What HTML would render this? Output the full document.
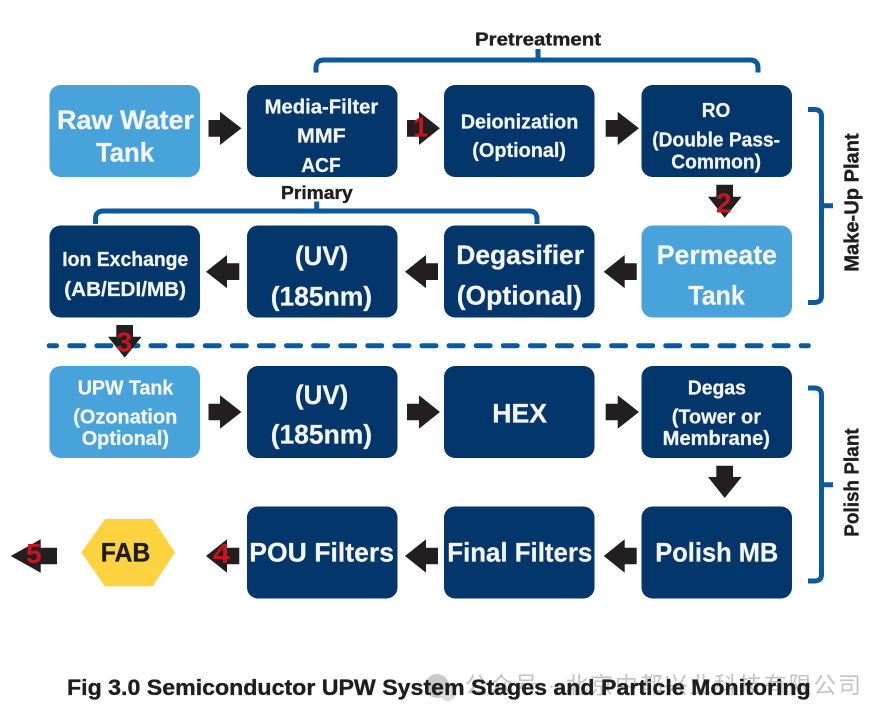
<!DOCTYPE html>
<html><head><meta charset="utf-8"><style>
html,body{margin:0;padding:0;background:#fff}
svg{display:block}
text{font-family:"Liberation Sans","Noto Sans CJK SC",sans-serif;font-weight:bold}
.w{fill:#f4f5f7;stroke:#f4f5f7;stroke-width:.25px}.k{fill:#1f1d1e;stroke:#1f1d1e;stroke-width:.35px}.r{fill:#c8141c;font-size:28px}
.a{fill:#231f20}.n{fill:#03366a}.l{fill:#48a3db}
.b{fill:none;stroke:#0b5a9e;stroke-width:5}
</style></head><body>
<svg width="891" height="721" viewBox="0 0 891 721" xmlns="http://www.w3.org/2000/svg">
<rect width="891" height="721" fill="#fff"/>
<!-- boxes -->
<rect class="l" x="49.5" y="85" width="150.5" height="92" rx="11"/>
<rect class="n" x="247" y="85" width="150.5" height="92" rx="11"/>
<rect class="n" x="444" y="85" width="150.5" height="92" rx="11"/>
<rect class="n" x="641.5" y="85" width="150.5" height="92" rx="11"/>
<rect class="n" x="49.5" y="225.5" width="150.5" height="92" rx="11"/>
<rect class="n" x="247" y="225.5" width="150.5" height="92" rx="11"/>
<rect class="n" x="444" y="225.5" width="150.5" height="92" rx="11"/>
<rect class="l" x="641.5" y="225.5" width="150.5" height="92" rx="11"/>
<rect class="l" x="49.5" y="366" width="150.5" height="92" rx="11"/>
<rect class="n" x="247" y="366" width="150.5" height="92" rx="11"/>
<rect class="n" x="444" y="366" width="150.5" height="92" rx="11"/>
<rect class="n" x="641.5" y="366" width="150.5" height="92" rx="11"/>
<rect class="n" x="247" y="506.5" width="150.5" height="92" rx="11"/>
<rect class="n" x="444" y="506.5" width="150.5" height="92" rx="11"/>
<rect class="n" x="641.5" y="506.5" width="150.5" height="92" rx="11"/>
<polygon points="81.3,552.5 105,519 152.7,519 175,552.5 152.7,586.3 105,586.3" fill="#ffd33f"/>
<!-- brackets -->
<path class="b" d="M316 72.5V68Q316 60 324 60H750Q758 60 758 68V72.5M538 49V60"/>
<path class="b" d="M95.5 224V219Q95.5 211 103.500 211H529Q537 211 537 219V224M316.700 201.500V211"/>
<path class="b" d="M808 109.500H814Q821.500 109.500 821.500 116V296Q821.500 302.500 814 302.500H808M821.500 205.700H833"/>
<path class="b" d="M808 388H814Q821.500 388 821.500 394.500V574.500Q821.500 581 814 581H808M821.500 484.700H833"/>
<!-- dashed line -->
<path class="b" stroke-linecap="round" d="M49.200 345.700H56.500"/>
<path class="b" stroke-linecap="round" stroke-dasharray="14 13.090" d="M69.800 345.700H808.300"/>
<!-- arrows right -->
<polygon class="a" points="208.500,120 220,120 220,111.700 241.500,128.300 220,145 220,136.700 208.500,136.700"/>
<polygon class="a" points="407,120 419,120 419,111.700 440,128.300 419,145 419,136.700 407,136.700"/>
<polygon class="a" points="605.700,120 617.700,120 617.700,111.700 639,128.300 617.700,145 617.700,136.700 605.700,136.700"/>
<polygon class="a" points="208.500,403.700 220,403.700 220,395.300 241.500,412 220,428.700 220,420.300 208.500,420.300"/>
<polygon class="a" points="407,403.700 419,403.700 419,395.300 440,412 419,428.700 419,420.300 407,420.300"/>
<polygon class="a" points="605.700,403.700 617.700,403.700 617.700,395.300 639,412 617.700,428.700 617.700,420.300 605.700,420.300"/>
<!-- arrows left -->
<polygon class="a" points="206,271.700 227,255 227,263.300 239.300,263.300 239.300,280 227,280 227,288.300"/>
<polygon class="a" points="405,271.700 426,255 426,263.300 438,263.300 438,280 426,280 426,288.300"/>
<polygon class="a" points="603.700,271.700 624.700,255 624.700,263.300 636.700,263.300 636.700,280 624.700,280 624.700,288.300"/>
<polygon class="a" points="603.700,556 624.700,539.300 624.700,547.700 636.700,547.700 636.700,564.300 624.700,564.300 624.700,572.700"/>
<polygon class="a" points="405,556 426,539.300 426,547.700 438,547.700 438,564.300 426,564.300 426,572.700"/>
<polygon class="a" points="206,556 227,539.300 227,547.700 239.300,547.700 239.300,564.300 227,564.300 227,572.700"/>
<polygon class="a" points="10.700,556 40.700,539.300 40.700,547.700 57,547.700 57,564.300 40.700,564.300 40.700,572.700"/>
<!-- arrows down -->
<polygon class="a" points="716.300,184.700 733,184.700 733,196.700 741.700,196.700 724.700,217.700 708,196.700 716.300,196.700"/>
<polygon class="a" points="716.300,465.700 733,465.700 733,477 741.700,477 724.700,498 708,477 716.300,477"/>
<polygon class="a" points="116.300,325 133,325 133,336.700 141.700,336.700 124.700,357.700 108,336.700 116.300,336.700"/>
<!-- watermark -->
<circle cx="437" cy="686" r="12" fill="#c9c9c9"/>
<circle cx="448" cy="693" r="8" fill="#dcdcdc"/>
<text x="465" y="693" font-size="23" textLength="396" lengthAdjust="spacing" fill="#c4c4c4" style="font-weight:normal">公众号 · 北京中都兴业科技有限公司</text>
<!-- labels -->
<g class="w" font-size="27">
<text x="57" y="129" textLength="137" lengthAdjust="spacingAndGlyphs">Raw Water</text>
<text x="96" y="161.700" textLength="58" lengthAdjust="spacingAndGlyphs">Tank</text>
<text x="295" y="265" textLength="53.300" lengthAdjust="spacingAndGlyphs">(UV)</text>
<text x="270.700" y="305.300" textLength="101.300" lengthAdjust="spacingAndGlyphs">(185nm)</text>
<text x="456.300" y="264" textLength="127.700" lengthAdjust="spacingAndGlyphs">Degasifier</text>
<text x="456.700" y="304.700" textLength="125.300" lengthAdjust="spacingAndGlyphs">(Optional)</text>
<text x="656.700" y="264" textLength="120.300" lengthAdjust="spacingAndGlyphs">Permeate</text>
<text x="688.300" y="304.700" textLength="56.400" lengthAdjust="spacingAndGlyphs">Tank</text>
<text x="295" y="404" textLength="53.300" lengthAdjust="spacingAndGlyphs">(UV)</text>
<text x="270.700" y="443.300" textLength="101.300" lengthAdjust="spacingAndGlyphs">(185nm)</text>
<text x="492.300" y="422.700" textLength="54.700" lengthAdjust="spacingAndGlyphs">HEX</text>
<text x="249.300" y="561.700" textLength="144.700" lengthAdjust="spacingAndGlyphs">POU Filters</text>
<text x="447.300" y="561.700" textLength="145" lengthAdjust="spacingAndGlyphs">Final Filters</text>
<text x="655.300" y="561.700" textLength="123" lengthAdjust="spacingAndGlyphs">Polish MB</text>
</g>
<g class="w" font-size="20">
<text x="264.700" y="113.300" textLength="113.600" lengthAdjust="spacingAndGlyphs">Media-Filter</text>
<text x="297" y="142.300" textLength="48.700" lengthAdjust="spacingAndGlyphs">MMF</text>
<text x="301.300" y="172" textLength="39.400" lengthAdjust="spacingAndGlyphs">ACF</text>
<text x="460.700" y="128.300" textLength="117.600" lengthAdjust="spacingAndGlyphs">Deionization</text>
<text x="472.300" y="157" textLength="93.700" lengthAdjust="spacingAndGlyphs">(Optional)</text>
<text x="701.700" y="117" textLength="28.600" lengthAdjust="spacingAndGlyphs">RO</text>
<text x="652.300" y="146.300" textLength="127.700" lengthAdjust="spacingAndGlyphs">(Double Pass-</text>
<text x="671.300" y="168.300" textLength="89.700" lengthAdjust="spacingAndGlyphs">Common)</text>
<text x="62.300" y="266" textLength="126" lengthAdjust="spacingAndGlyphs">Ion Exchange</text>
<text x="64.300" y="296" textLength="121.700" lengthAdjust="spacingAndGlyphs">(AB/EDI/MB)</text>
<text x="77.700" y="394.300" textLength="95.600" lengthAdjust="spacingAndGlyphs">UPW Tank</text>
<text x="73.300" y="423.300" textLength="104" lengthAdjust="spacingAndGlyphs">(Ozonation</text>
<text x="81.700" y="445" textLength="87.300" lengthAdjust="spacingAndGlyphs">Optional)</text>
<text x="687.700" y="394.300" textLength="58.300" lengthAdjust="spacingAndGlyphs">Degas</text>
<text x="671.700" y="423.300" textLength="89.300" lengthAdjust="spacingAndGlyphs">(Tower or</text>
<text x="662.700" y="445" textLength="107.300" lengthAdjust="spacingAndGlyphs">Membrane)</text>
</g>
<g class="k">
<text x="100.700" y="561.300" font-size="27" textLength="49.600" lengthAdjust="spacingAndGlyphs">FAB</text>
<text x="475" y="45.300" font-size="18" textLength="126" lengthAdjust="spacingAndGlyphs">Pretreatment</text>
<text x="281" y="199" font-size="18" textLength="71.700" lengthAdjust="spacingAndGlyphs">Primary</text>
<text transform="translate(858.300 271.700) rotate(-90)" font-size="20" textLength="138.400" lengthAdjust="spacingAndGlyphs">Make-Up Plant</text>
<text transform="translate(858.300 536.700) rotate(-90)" font-size="20" textLength="108.400" lengthAdjust="spacingAndGlyphs">Polish Plant</text>
<text x="67" y="695" font-size="22" textLength="743.700" lengthAdjust="spacingAndGlyphs">Fig 3.0 Semiconductor UPW System Stages and Particle Monitoring</text>
</g>
<!-- numbers -->
<text class="r" x="413" y="136.700" textLength="15" lengthAdjust="spacingAndGlyphs">1</text>
<text class="r" x="716" y="212.700" textLength="15.500" lengthAdjust="spacingAndGlyphs">2</text>
<text class="r" x="116.500" y="351.500" textLength="15.800" lengthAdjust="spacingAndGlyphs">3</text>
<text class="r" x="213" y="563" textLength="17" lengthAdjust="spacingAndGlyphs">4</text>
<text class="r" x="26" y="563" textLength="15.700" lengthAdjust="spacingAndGlyphs">5</text>
</svg>
</body></html>
